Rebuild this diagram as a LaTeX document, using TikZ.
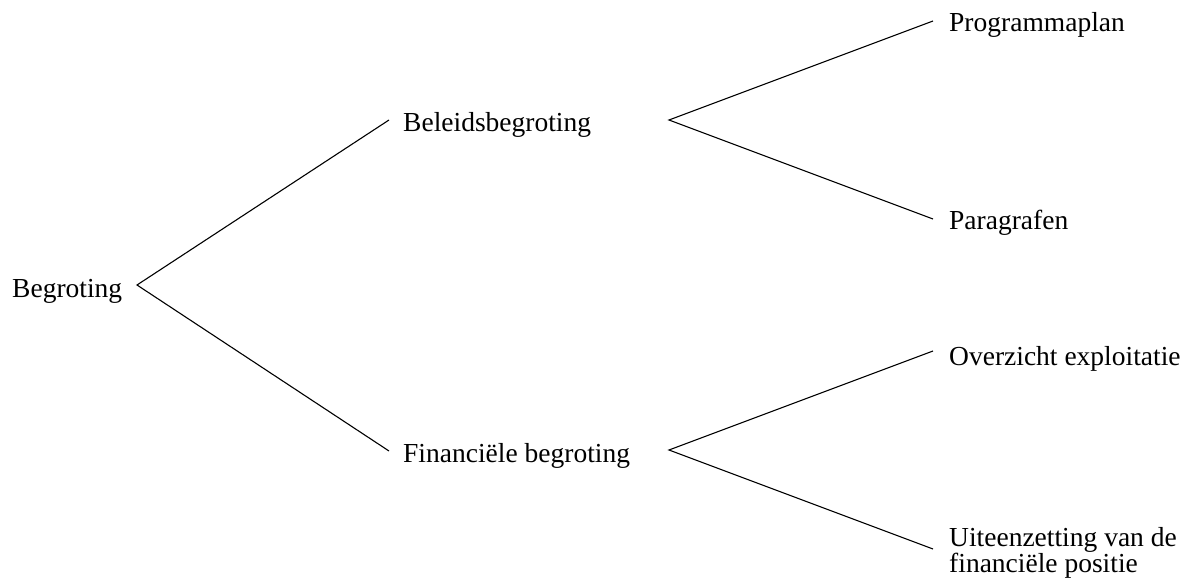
\documentclass[tikz,border=0pt]{standalone}
\usepackage{fontspec}
\setmainfont{Liberation Serif}
\begin{document}
\begin{tikzpicture}[x=1pt,y=-1pt,
  lbl/.style={inner sep=0pt,anchor=mid west,font=\fontsize{27.5}{25}\selectfont},
  conn/.style={line width=1.1pt,black}]
\useasboundingbox (0,0) rectangle (1195,580);
% text nodes
\node[lbl] (beg) at (12,295) {Begroting};
\node[lbl] (bel) at (403,129) {Beleidsbegroting};
\node[lbl] (fin) at (403,460) {Financiële begroting};
\node[lbl] (prog) at (949,29) {Programmaplan};
\node[lbl] (par) at (949,227) {Paragrafen};
\node[lbl] (ovz) at (949,363) {Overzicht exploitatie};
\node[lbl,anchor=base west,align=left] (uit) at (949,572) {Uiteenzetting van de\\[-1pt]financiële positie};
% connector end points
\coordinate (a0) at (137,285);
\coordinate (a1) at (389,120);
\coordinate (a2) at (389,451);
\coordinate (b0) at (669,120);
\coordinate (b1) at (933,21);
\coordinate (b2) at (933,219);
\coordinate (c0) at (669,450);
\coordinate (c1) at (933,351);
\coordinate (c2) at (933,549);
\draw[conn] (a1) -- (a0) -- (a2);
\draw[conn] (b1) -- (b0) -- (b2);
\draw[conn] (c1) -- (c0) -- (c2);
\end{tikzpicture}
\end{document}
